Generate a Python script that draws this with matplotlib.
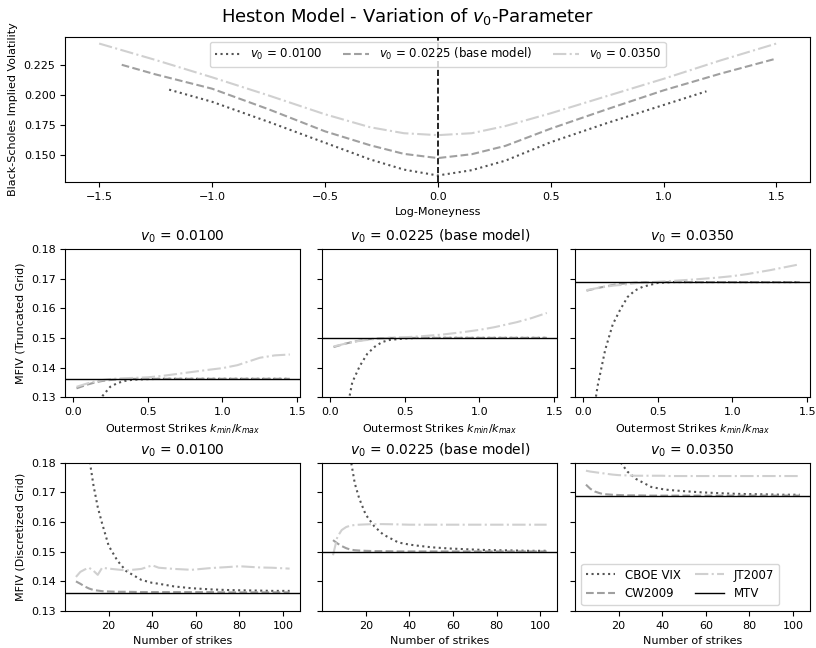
import matplotlib
matplotlib.use("Agg")
import matplotlib.pyplot as plt

# ---------------- data ----------------
v0_labels = [r"$v_0$ = 0.0100", r"$v_0$ = 0.0225 (base model)", r"$v_0$ = 0.0350"]

# Top panel: Black-Scholes implied volatility smiles
smile_x_1 = [-1.19, -1.0, -0.75, -0.5, -0.3, -0.15, 0.0, 0.15, 0.3, 0.5, 0.75, 1.0, 1.19]
smile_y_1 = [0.2043, 0.1942, 0.1775, 0.1601, 0.1462, 0.1377, 0.1328, 0.1372, 0.1452, 0.1605, 0.1765, 0.1915, 0.2029]
smile_x_2 = [-1.4, -1.25, -1.0, -0.75, -0.5, -0.3, -0.15, 0.0, 0.15, 0.3, 0.5, 0.75, 1.0, 1.25, 1.5]
smile_y_2 = [0.2250, 0.2170, 0.2051, 0.1880, 0.1696, 0.1580, 0.1508, 0.1473, 0.1505, 0.1575, 0.1718, 0.1880, 0.2037, 0.2175, 0.2302]
smile_x_3 = [-1.5, -1.25, -1.0, -0.75, -0.5, -0.3, -0.15, 0.0, 0.15, 0.3, 0.5, 0.75, 1.0, 1.25, 1.5]
smile_y_3 = [0.2427, 0.2290, 0.2146, 0.1995, 0.1838, 0.1730, 0.1680, 0.1664, 0.1680, 0.1740, 0.1846, 0.1990, 0.2133, 0.2285, 0.2427]

# MTV (true model-free implied volatility)
mtv = [0.1362, 0.1500, 0.1688]

# Middle row: truncated grid, x = outermost strikes
trunc_x = [0.025, 0.1, 0.15, 0.2, 0.25, 0.3, 0.35, 0.4, 0.5, 0.6, 0.75, 0.9, 1.0, 1.1, 1.25, 1.35, 1.45]
trunc_cboe = [
    [0.100, 0.116, 0.1245, 0.1305, 0.1335, 0.1348, 0.1355, 0.1359, 0.1361, 0.1362, 0.1362, 0.1362, 0.1362, 0.1362, 0.1362, 0.1362, 0.1362],
    [0.090, 0.122, 0.1350, 0.1405, 0.1446, 0.1470, 0.1486, 0.1493, 0.1498, 0.1500, 0.1500, 0.1500, 0.1500, 0.1500, 0.1500, 0.1500, 0.1500],
    [0.110, 0.1340, 0.1460, 0.1545, 0.1595, 0.1638, 0.1660, 0.1672, 0.1685, 0.1688, 0.1688, 0.1688, 0.1688, 0.1688, 0.1688, 0.1688, 0.1688],
]
trunc_cw = [
    [0.1330, 0.1343, 0.1350, 0.1355, 0.1358, 0.1360, 0.1361, 0.1362, 0.1362, 0.1362, 0.1362, 0.1362, 0.1362, 0.1362, 0.1362, 0.1362, 0.1362],
    [0.1469, 0.1480, 0.1486, 0.1491, 0.1495, 0.1497, 0.1499, 0.1500, 0.1500, 0.1500, 0.1500, 0.1500, 0.1500, 0.1500, 0.1500, 0.1500, 0.1500],
    [0.1659, 0.1668, 0.1673, 0.1678, 0.1682, 0.1684, 0.1686, 0.1687, 0.1688, 0.1688, 0.1688, 0.1688, 0.1688, 0.1688, 0.1688, 0.1688, 0.1688],
]
trunc_jt = [
    [0.1335, 0.1347, 0.1353, 0.1358, 0.1361, 0.1363, 0.1364, 0.1365, 0.1367, 0.1372, 0.1382, 0.1392, 0.1398, 0.1408, 0.1433, 0.1441, 0.1444],
    [0.1471, 0.1480, 0.1486, 0.1490, 0.1493, 0.1496, 0.1498, 0.1500, 0.1502, 0.1505, 0.1511, 0.1520, 0.1527, 0.1536, 0.1553, 0.1567, 0.1584],
    [0.1661, 0.1668, 0.1672, 0.1676, 0.1678, 0.1681, 0.1684, 0.1686, 0.1689, 0.1692, 0.1697, 0.1703, 0.1708, 0.1715, 0.1728, 0.1738, 0.1748],
]

# Bottom row: discretized grid, x = number of strikes
disc_x = [5, 7, 9, 11, 13, 15, 17, 20, 24, 28, 35, 40, 43, 50, 58, 67, 74, 80, 89, 95, 103]
disc_cboe = [
    [0.260, 0.220, 0.195, 0.1820, 0.1725, 0.1650, 0.1595, 0.1520, 0.1470, 0.1435, 0.1405, 0.1395, 0.1392, 0.1383, 0.1377, 0.1373, 0.1371, 0.1370, 0.1369, 0.1368, 0.1368],
    [0.280, 0.240, 0.210, 0.1920, 0.1815, 0.1730, 0.1680, 0.1625, 0.1585, 0.1558, 0.1531, 0.1524, 0.1521, 0.1515, 0.1511, 0.1508, 0.1506, 0.1505, 0.1504, 0.1503, 0.1503],
    [0.260, 0.230, 0.210, 0.1980, 0.1920, 0.1870, 0.1840, 0.1810, 0.1770, 0.1745, 0.1718, 0.1711, 0.1708, 0.1704, 0.1700, 0.1697, 0.1695, 0.1694, 0.1693, 0.1692, 0.1692],
]
disc_cw = [
    [0.1400, 0.1392, 0.1383, 0.1376, 0.1371, 0.1369, 0.1367, 0.1366, 0.1365, 0.1365, 0.1364, 0.1364, 0.1364, 0.1364, 0.1364, 0.1364, 0.1363, 0.1363, 0.1363, 0.1363, 0.1363],
    [0.1539, 0.1528, 0.1519, 0.1512, 0.1507, 0.1505, 0.1504, 0.1503, 0.1502, 0.1502, 0.1501, 0.1501, 0.1501, 0.1501, 0.1501, 0.1501, 0.1501, 0.1501, 0.1501, 0.1501, 0.1501],
    [0.1726, 0.1712, 0.1703, 0.1698, 0.1694, 0.1693, 0.1692, 0.1691, 0.1690, 0.1690, 0.1689, 0.1689, 0.1689, 0.1689, 0.1689, 0.1689, 0.1689, 0.1689, 0.1689, 0.1689, 0.1689],
]
disc_jt = [
    [0.1415, 0.1432, 0.1440, 0.1446, 0.1436, 0.1422, 0.1446, 0.1443, 0.1440, 0.1437, 0.1442, 0.1454, 0.1446, 0.1442, 0.1439, 0.1445, 0.1448, 0.1451, 0.1447, 0.1446, 0.1443],
    [0.1488, 0.1550, 0.1573, 0.1583, 0.1588, 0.1590, 0.1591, 0.1592, 0.1593, 0.1593, 0.1592, 0.1591, 0.1591, 0.1591, 0.1591, 0.1591, 0.1591, 0.1591, 0.1591, 0.1591, 0.1591],
    [0.1773, 0.1770, 0.1768, 0.1766, 0.1764, 0.1762, 0.1760, 0.1758, 0.1757, 0.1756, 0.1756, 0.1756, 0.1755, 0.1755, 0.1755, 0.1755, 0.1755, 0.1755, 0.1755, 0.1755, 0.1755],
]

method_labels = ["CBOE VIX", "CW2009", "JT2007", "MTV"]

# ---------------- style ----------------
c_dot = "#555555"
c_dash = "#a0a0a0"
c_dd = "#d0d0d0"
lw = 1.5

plt.rcParams["font.family"] = ["DejaVu Sans"]
plt.rcParams["font.size"] = 8
plt.rcParams["xtick.labelsize"] = 8
plt.rcParams["ytick.labelsize"] = 8

fig = plt.figure(figsize=(8.16, 6.48), dpi=100)

# ---------------- top panel ----------------
ax0 = fig.add_axes([0.080, 0.719, 0.913, 0.224])
ax0.plot(smile_x_1, smile_y_1, linestyle=":", color=c_dot, lw=lw, label=v0_labels[0])
ax0.plot(smile_x_2, smile_y_2, linestyle="--", color=c_dash, lw=lw, label=v0_labels[1])
ax0.plot(smile_x_3, smile_y_3, linestyle="-.", color=c_dd, lw=lw, label=v0_labels[2])
ax0.axvline(0.0, color="black", linestyle="--", lw=1.2)
ax0.set_yticks([0.150, 0.175, 0.200, 0.225])
ax0.set_xlabel("Log-Moneyness")
ax0.set_ylabel("Black-Scholes Implied Volatility")
ax0.legend(loc="upper center", ncol=3, fontsize=8.5, handlelength=2.2, columnspacing=1.8,
           borderaxespad=0.4)

fig.suptitle(r"Heston Model - Variation of $v_0$-Parameter", fontsize=13, y=0.99)

# ---------------- lower panels ----------------
lefts = [0.080, 0.395, 0.705]
width = 0.288
row_bottoms = [0.387, 0.057]
row_height = 0.229

for r, bottom in enumerate(row_bottoms):
    for c in range(3):
        ax = fig.add_axes([lefts[c], bottom, width, row_height])
        if r == 0:
            xs = trunc_x
            cb, cw, jt = trunc_cboe[c], trunc_cw[c], trunc_jt[c]
        else:
            xs = disc_x
            cb, cw, jt = disc_cboe[c], disc_cw[c], disc_jt[c]
        ax.plot(xs, cb, linestyle=":", color=c_dot, lw=lw, label=method_labels[0])
        ax.plot(xs, cw, linestyle="--", color=c_dash, lw=lw, label=method_labels[1])
        ax.plot(xs, jt, linestyle="-.", color=c_dd, lw=lw, label=method_labels[2])
        ax.axhline(mtv[c], color="black", lw=1.0, label=method_labels[3])
        ax.set_ylim(0.13, 0.18)
        ax.set_yticks([0.13, 0.14, 0.15, 0.16, 0.17, 0.18])
        if r == 0:
            ax.set_xlim(-0.05, 1.52)
            ax.set_xticks([0.0, 0.5, 1.0, 1.5])
            ax.set_xlabel(r"Outermost Strikes $k_{min}/k_{max}$")
        else:
            ax.set_xlim(0.1, 107.9)
            ax.set_xticks([20, 40, 60, 80, 100])
            ax.set_xlabel("Number of strikes")
        ax.set_title(v0_labels[c], fontsize=10)
        if c == 0:
            ax.set_ylabel("MFIV (Truncated Grid)" if r == 0 else "MFIV (Discretized Grid)")
        else:
            ax.set_yticklabels([])
        if r == 1 and c == 2:
            ax.legend(loc="lower left", ncol=2, fontsize=8.5, handlelength=2.5,
                      columnspacing=1.2)

fig.savefig("out.png", dpi=100)
